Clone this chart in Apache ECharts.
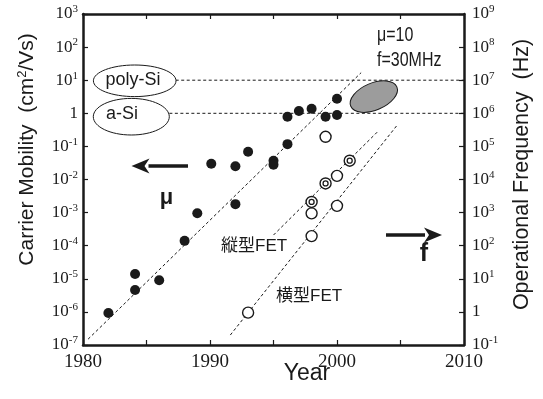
<!DOCTYPE html>
<html>
<head>
<meta charset="utf-8">
<script src="https://cdn.jsdelivr.net/npm/echarts@6/dist/echarts.min.js"></script>
<style>
html,body{margin:0;padding:0;background:#fff;}
#chart{width:543px;height:399px;}
</style>
</head>
<body>
<div id="chart"></div>
<script>
// ---- data (year, carrier mobility cm^2/Vs) ----
const filledPoints = [
  [1982.0, 9.3e-7], [1984.1, 1.4e-5], [1984.1, 4.6e-6], [1986.0, 9.0e-6],
  [1988.0, 1.4e-4], [1989.0, 9.5e-4], [1990.1, 0.030], [1992.0, 0.025],
  [1992.0, 1.8e-3], [1993.0, 0.069], [1995.0, 0.037], [1995.0, 0.028],
  [1996.1, 0.117], [1996.1, 0.79], [1997.0, 1.17], [1998.0, 1.38],
  [1999.1, 0.79], [2000.0, 0.89], [2000.0, 2.75]
];
const openPoints = [
  [1993.0, 9.5e-7], [1998.0, 1.95e-4], [1998.0, 9.5e-4], [2000.0, 1.6e-3],
  [2000.0, 0.0129], [1999.1, 0.195]
];
const doublePoints = [
  [1998.0, 2.1e-3], [1999.1, 7.6e-3], [2001.0, 0.037]
];
const trendMobility = [[1980.4, 1.5e-7], [2001.9, 16.9]];
const trendVertical = [[1995.0, 2.1e-4], [2003.2, 0.278]];
const trendLateral = [[1991.6, 2.0e-7], [2004.75, 0.444]];
const polySiLevel = [[1987.3, 10], [2010, 10]];
const aSiLevel = [[1986.8, 1], [2010, 1]];
const xTicks = [1980, 1990, 2000, 2010];

const ink = '#1a1a1a';
const serif = "'Liberation Serif', 'DejaVu Serif', serif";
const sans = "'Liberation Sans', Arial, sans-serif";
const cjk = "'Liberation Sans', 'Noto Sans CJK JP', sans-serif";

function powLabel(v) {
  const e = Math.round(Math.log10(v));
  if (e === 0) return '{b|1}';
  return '{b|10}{s|' + e + '}';
}
const richPow = {
  b: {fontSize: 17, fontFamily: serif, color: ink, lineHeight: 20},
  s: {fontSize: 11, fontFamily: serif, color: ink, lineHeight: 11, verticalAlign: 'top'}
};

const chart = echarts.init(document.getElementById('chart'), null, {renderer: 'canvas'});

const dashStyle = {color: ink, width: 1, type: [3, 2.5]};
function trend(data) {
  return {type: 'line', data: data, symbol: 'none', lineStyle: dashStyle, silent: true, z: 2, animation: false};
}

chart.setOption({
  animation: false,
  backgroundColor: '#fff',
  grid: {left: 83, right: 79, top: 14, bottom: 54, containLabel: false},
  xAxis: [{
    type: 'value', min: 1980, max: 2010, interval: 5, position: 'bottom',
    axisLine: {lineStyle: {color: ink, width: 2.5}},
    axisTick: {inside: true, length: 5, lineStyle: {color: ink, width: 1.2}},
    splitLine: {show: false},
    axisLabel: {
      margin: 8, color: ink, fontSize: 19, fontFamily: serif,
      formatter: v => xTicks.indexOf(v) >= 0 ? String(v) : ''
    }
  }, {
    type: 'value', min: 1980, max: 2010, interval: 5, position: 'top',
    axisLine: {lineStyle: {color: ink, width: 2.5}},
    axisTick: {inside: true, length: 5, lineStyle: {color: ink, width: 1.2}},
    splitLine: {show: false}, axisLabel: {show: false}
  }],
  yAxis: [{
    type: 'log', logBase: 10, min: 1e-7, max: 1e3, interval: 1, position: 'left',
    axisLine: {show: true, lineStyle: {color: ink, width: 2.5}},
    axisTick: {show: true, inside: true, length: 5, lineStyle: {color: ink, width: 1.2}},
    splitLine: {show: false}, minorTick: {show: false},
    axisLabel: {margin: 5, formatter: powLabel, rich: richPow}
  }, {
    type: 'log', logBase: 10, min: 1e-1, max: 1e9, interval: 1, position: 'right',
    axisLine: {show: true, lineStyle: {color: ink, width: 2.5}},
    axisTick: {show: true, inside: true, length: 5, lineStyle: {color: ink, width: 1.2}},
    splitLine: {show: false},
    axisLabel: {margin: 8, formatter: powLabel, rich: richPow}
  }],
  series: [
    trend(trendMobility), trend(trendVertical), trend(trendLateral),
    trend(polySiLevel), trend(aSiLevel),
    {type: 'scatter', data: filledPoints, symbol: 'circle', symbolSize: 10,
     itemStyle: {color: ink, opacity: 1}, z: 5},
    {type: 'scatter', data: openPoints, symbol: 'circle', symbolSize: 11,
     itemStyle: {color: '#fff', borderColor: ink, borderWidth: 1.4, opacity: 1}, z: 5},
    {type: 'scatter', data: doublePoints, symbol: 'circle', symbolSize: 11,
     itemStyle: {color: '#fff', borderColor: ink, borderWidth: 1.4, opacity: 1}, z: 5},
    {type: 'scatter', data: doublePoints, symbol: 'circle', symbolSize: 5,
     itemStyle: {color: '#fff', borderColor: ink, borderWidth: 1.3, opacity: 1}, z: 6}
  ]
});

// ---- annotations ----
const target = chart.convertToPixel({xAxisIndex: 0, yAxisIndex: 0}, [2002.9, 3.2]);
function txt(x, y, text, font, size, extra, scaleX) {
  return {
    type: 'text', x: x, y: y, z: 20, scaleX: scaleX || 1,
    style: Object.assign({text: text, fontFamily: font, fontSize: size, fill: ink,
      align: 'center', verticalAlign: 'middle'}, extra || {})
  };
}
function arrow(x1, x2, y, dir) {
  const tip = dir < 0 ? x1 : x2;
  const base = tip - dir * 17;
  return [
    {type: 'line', z: 20, shape: {x1: dir < 0 ? base : x1, y1: y, x2: dir < 0 ? x2 : base, y2: y},
     style: {stroke: ink, lineWidth: 3.4}},
    {type: 'polygon', z: 20, shape: {points: [[tip, y], [tip - dir * 18, y - 7.5], [tip - dir * 13, y], [tip - dir * 18, y + 7.5]]},
     style: {fill: ink}}
  ];
}
chart.setOption({
  graphic: [
    {type: 'ellipse', z: 10, shape: {cx: 134.7, cy: 80.8, rx: 41.3, ry: 15.8},
     style: {fill: '#fff', stroke: ink, lineWidth: 1}},
    {type: 'ellipse', z: 10, shape: {cx: 131.3, cy: 116.7, rx: 38, ry: 18.3},
     style: {fill: '#fff', stroke: ink, lineWidth: 1}},
    txt(133, 80, 'poly-Si', sans, 18),
    txt(122, 114, 'a-Si', sans, 18),
    {type: 'ellipse', z: 10, x: target[0], y: target[1], rotation: 0.4,
     shape: {cx: 0, cy: 0, rx: 25, ry: 13.5},
     style: {fill: '#9c9c9c', stroke: ink, lineWidth: 1}},
    txt(377, 35, 'μ=10', sans, 20, {align: 'left'}, 0.8),
    txt(377, 60, 'f=30MHz', sans, 20, {align: 'left'}, 0.8),
    txt(166.5, 198, 'μ', sans, 22, {fontWeight: 'bold'}),
    txt(424, 254, 'f', sans, 25, {fontWeight: 'bold'}),
    txt(221, 246, '縦型FET', cjk, 17, {align: 'left'}),
    txt(276, 296, '横型FET', cjk, 17, {align: 'left'}),
    txt(307, 374, 'Year', sans, 23),
    {type: 'text', z: 20, x: 27.5, y: 149.5, rotation: Math.PI / 2,
     style: {text: '{n|Carrier Mobility  (cm}{s|2}{n|/Vs)}', align: 'center', verticalAlign: 'middle',
       rich: {n: {fontFamily: sans, fontSize: 21, fill: ink, lineHeight: 24},
              s: {fontFamily: sans, fontSize: 13, fill: ink, lineHeight: 14, verticalAlign: 'top'}}}},
    {type: 'text', z: 20, x: 522.5, y: 174.5, rotation: Math.PI / 2,
     style: {text: 'Operational Frequency  (Hz)', fontFamily: sans, fontSize: 21.5, fill: ink,
       align: 'center', verticalAlign: 'middle'}}
  ].concat(arrow(131.5, 188, 166, -1), arrow(386, 442, 235, 1))
});
</script>
</body>
</html>
